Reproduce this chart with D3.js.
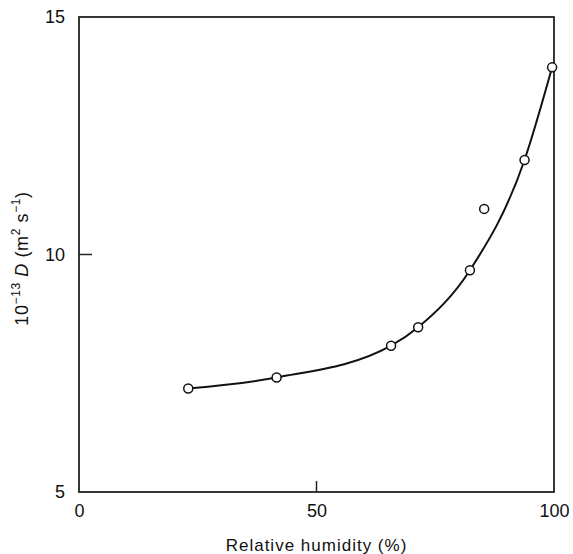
<!DOCTYPE html>
<html><head><meta charset="utf-8">
<script src="https://cdn.jsdelivr.net/npm/d3@7"></script>
<style>body{margin:0;background:#fff}svg{display:block}text{font-family:"Liberation Sans",Arial,sans-serif;fill:#111}</style>
</head><body><svg id="c" width="573" height="554"></svg>
<script>
const humidity = [23.0, 41.6, 65.7, 71.4, 82.3, 85.3, 93.8, 99.6];
const diffusion = [7.18, 7.41, 8.08, 8.47, 9.67, 10.96, 11.99, 13.94];
const curveX = [23.0, 41.6, 65.7, 71.4, 82.3, 93.8, 99.6];
const curveY = [7.18, 7.41, 8.08, 8.47, 9.67, 11.99, 13.94];
const xTicks = [0, 50, 100];
const yTicks = [5, 10, 15];

const svg = d3.select("#c");
const L = 79, R = 554, T = 17, B = 492;
const x = d3.scaleLinear().domain([0, 100]).range([L, R]);
const y = d3.scaleLinear().domain([5, 15]).range([B, T]);

svg.append("rect").attr("x", L).attr("y", T).attr("width", R - L).attr("height", B - T)
  .attr("fill", "none").attr("stroke", "#222").attr("stroke-width", 1.8);

const xa = svg.append("g").attr("transform", `translate(0,${B})`)
  .call(d3.axisBottom(x).tickValues(xTicks).tickSize(0).tickPadding(12).tickFormat(d3.format("d")));
xa.select(".domain").remove();
xa.selectAll("text").attr("font-size", 18).attr("font-family", "Liberation Sans, Arial, sans-serif").attr("fill", "#111");
svg.append("g").selectAll("line").data([50]).join("line")
  .attr("x1", d => x(d)).attr("x2", d => x(d)).attr("y1", B).attr("y2", B - 11)
  .attr("stroke", "#222").attr("stroke-width", 1.5);

const ya = svg.append("g").attr("transform", `translate(${L},0)`)
  .call(d3.axisLeft(y).tickValues(yTicks).tickSize(0).tickPadding(14).tickFormat(d3.format("d")));
ya.select(".domain").remove();
ya.selectAll("text").attr("font-size", 18).attr("font-family", "Liberation Sans, Arial, sans-serif").attr("fill", "#111");
svg.append("g").selectAll("line").data([10]).join("line")
  .attr("x1", L).attr("x2", L + 13).attr("y1", d => y(d)).attr("y2", d => y(d))
  .attr("stroke", "#222").attr("stroke-width", 1.5);

const line = d3.line().x(d => x(d[0])).y(d => y(d[1])).curve(d3.curveMonotoneX);
svg.append("path").datum(curveX.map((v, i) => [v, curveY[i]]))
  .attr("d", line).attr("fill", "none").attr("stroke", "#111").attr("stroke-width", 2);

svg.append("g").selectAll("circle").data(humidity.map((v, i) => [v, diffusion[i]])).join("circle")
  .attr("cx", d => x(d[0])).attr("cy", d => y(d[1])).attr("r", 4.5)
  .attr("fill", "#fff").attr("stroke", "#111").attr("stroke-width", 1.5);

svg.append("text").attr("x", (L + R) / 2).attr("y", 551).attr("text-anchor", "middle")
  .attr("font-size", 17).attr("letter-spacing", 1).text("Relative humidity (%)");

const yt = svg.append("text").attr("transform", `translate(28,${(T + B) / 2 + 4}) rotate(-90)`)
  .attr("text-anchor", "middle").attr("font-size", 18).attr("letter-spacing", 0.6);
yt.append("tspan").text("10");
yt.append("tspan").attr("dy", -8).attr("font-size", 12).text("−13");
yt.append("tspan").attr("dy", 8).attr("font-style", "italic").text(" D");
yt.append("tspan").text(" (m");
yt.append("tspan").attr("dy", -8).attr("font-size", 12).text("2");
yt.append("tspan").attr("dy", 8).text(" s");
yt.append("tspan").attr("dy", -8).attr("font-size", 12).text("−1");
yt.append("tspan").attr("dy", 8).text(")");
</script></body></html>
